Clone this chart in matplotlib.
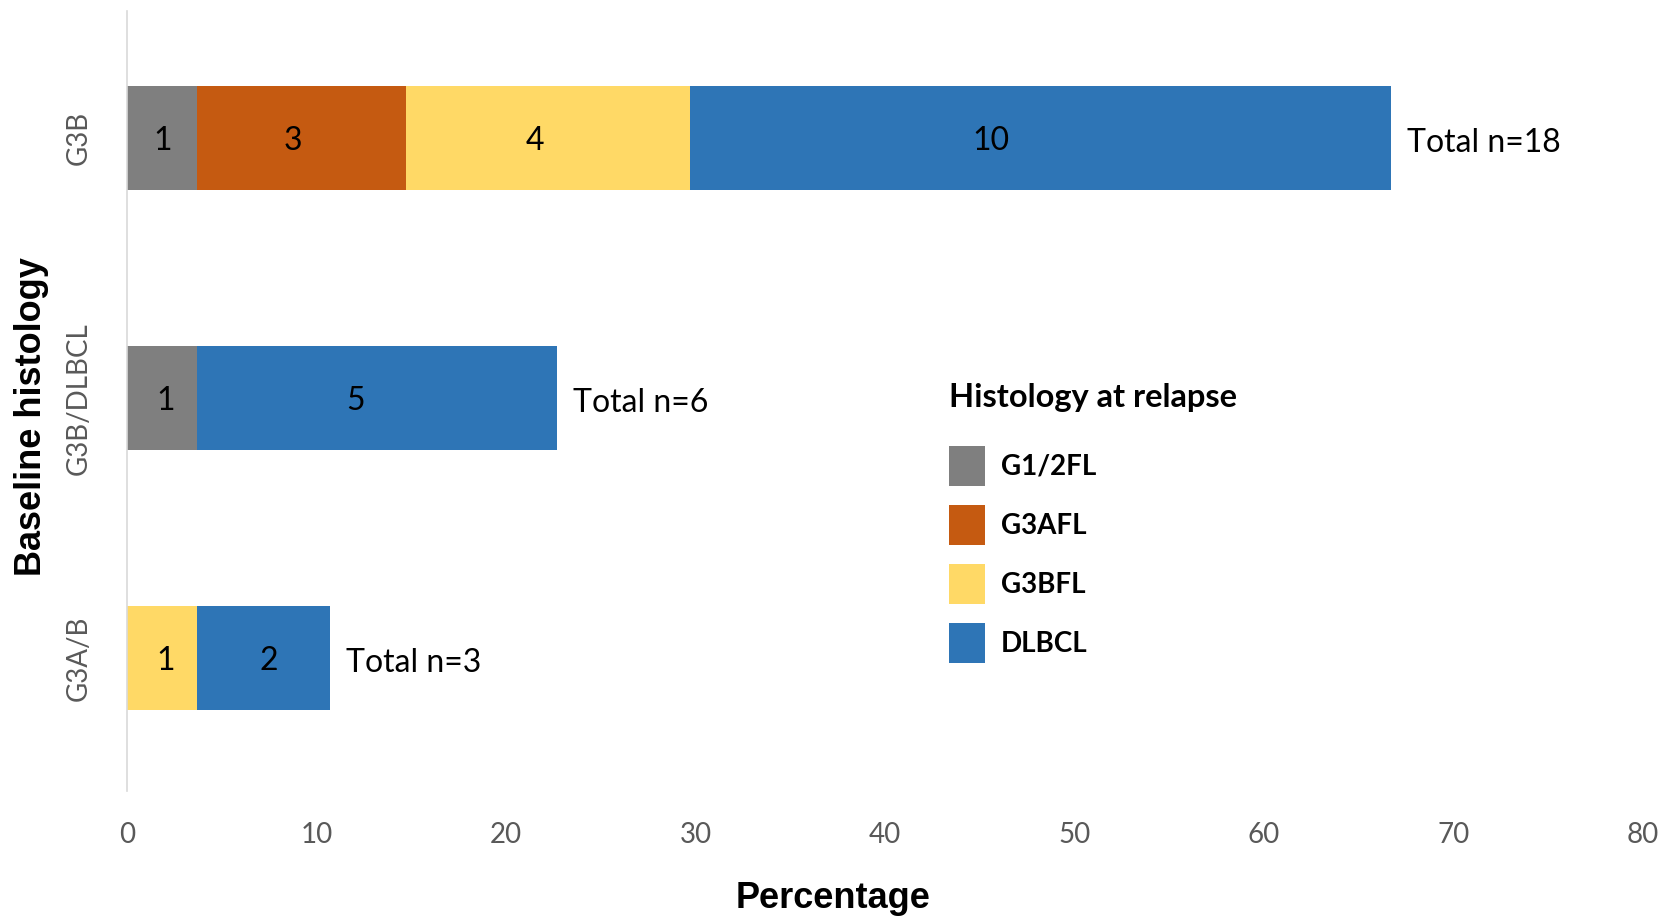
"""Stacked horizontal bars: histology at relapse by baseline histology."""

import matplotlib

matplotlib.use("Agg")
import matplotlib.pyplot as plt
import numpy as np

# Baseline histology groups (bottom to top)
groups = ["G3A/B", "G3B/DLBCL", "G3B"]
relapse_types = ["G1/2FL", "G3AFL", "G3BFL", "DLBCL"]

# Segment widths in percent
pct = {
    "G1/2FL": [0.0, 3.7, 3.7],
    "G3AFL": [0.0, 0.0, 11.0],
    "G3BFL": [3.7, 0.0, 15.0],
    "DLBCL": [7.0, 19.0, 37.0],
}
# Patient counts printed inside the segments
counts = {
    "G1/2FL": [0, 1, 1],
    "G3AFL": [0, 0, 3],
    "G3BFL": [1, 0, 4],
    "DLBCL": [2, 5, 10],
}
# Where the count labels sit (x, percent), as placed in the chart
label_x = {
    "G1/2FL": [None, 2.0, 1.85],
    "G3AFL": [None, None, 8.75],
    "G3BFL": [2.0, None, 21.5],
    "DLBCL": [7.45, 12.05, 45.6],
}
x_ticks = [0, 10, 20, 30, 40, 50, 60, 70, 80]

colors = {
    "G1/2FL": "#7F7F7F",
    "G3AFL": "#C55A11",
    "G3BFL": "#FFD966",
    "DLBCL": "#2E75B6",
}

BODY_FONT = ["Lato", "DejaVu Sans"]
LABEL_FONT = ["Liberation Sans", "DejaVu Sans"]


def main() -> None:
    fig = plt.figure(figsize=(16.65, 9.16), dpi=100)
    ax = fig.add_axes([0.0765, 0.1365, 0.9101, 0.8515])

    y = np.arange(len(groups))
    left = np.zeros(len(groups))
    for rtype in relapse_types:
        w = np.array(pct[rtype])
        ax.barh(y, w, left=left, height=0.4, color=colors[rtype], label=rtype)
        for yi, (n, lx) in enumerate(zip(counts[rtype], label_x[rtype])):
            if n > 0:
                ax.annotate(f"{n}", xy=(lx, yi), xytext=(0, -2), textcoords="offset points",
                            ha="center", va="center", fontsize=23, family=BODY_FONT,
                            color="black")
        left += w

    totals = np.sum([counts[r] for r in relapse_types], axis=0)
    for yi, (tot, end) in enumerate(zip(totals, left)):
        ax.annotate(f"Total n={tot}", xy=(end, yi), xytext=(11.5, -3.5),
                    textcoords="offset points", ha="left", va="center",
                    fontsize=23, family=BODY_FONT, color="black")

    ax.set_xlim(0, 80)
    ax.set_ylim(-0.51, 2.49)
    ax.set_xticks(x_ticks)
    ax.set_xticklabels([str(t) for t in x_ticks], fontsize=20, family=BODY_FONT, color="#595959")
    ax.set_yticks(y)
    ax.set_yticklabels(groups, rotation=90, va="center", fontsize=20,
                       family=BODY_FONT, color="#595959")
    ax.tick_params(axis="both", length=0)
    ax.tick_params(axis="x", pad=22)
    ax.tick_params(axis="y", pad=26)

    for side in ["top", "right", "bottom"]:
        ax.spines[side].set_visible(False)
    ax.spines["left"].set_color("#D9D9D9")
    ax.spines["left"].set_linewidth(1.2)

    ax.set_xlabel("Percentage", fontsize=26, fontweight="bold", family=LABEL_FONT)
    ax.xaxis.set_label_coords(0.466, -0.116)
    ax.set_ylabel("Baseline histology", fontsize=26, fontweight="bold", family=LABEL_FONT)
    ax.yaxis.set_label_coords(-0.052, 0.48)

    leg = ax.legend(loc="upper left", bbox_to_anchor=(0.535, 0.537), frameon=False,
                    title="Histology at relapse", alignment="left",
                    prop={"family": BODY_FONT, "weight": "bold", "size": 20},
                    handlelength=1.3, handleheight=1.85, labelspacing=0.68,
                    handletextpad=0.55, borderaxespad=0)
    leg.get_title().set_fontproperties({"family": BODY_FONT, "weight": "bold", "size": 23.5})
    leg._legend_box.sep = 24

    fig.savefig("out.png", dpi=100)
    plt.close(fig)


if __name__ == "__main__":
    main()
